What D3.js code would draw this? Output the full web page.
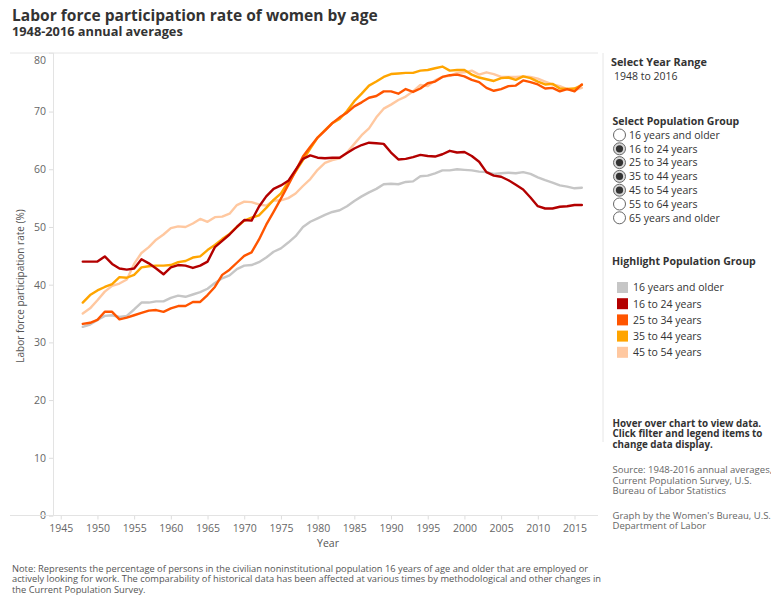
<!DOCTYPE html>
<html><head><meta charset="utf-8">
<script src="https://cdn.jsdelivr.net/npm/d3@7"></script>
<style>
body{margin:0;background:#fff;}
svg{display:block;font-family:"Open Sans",sans-serif;}
</style></head>
<body>
<svg id="chart" width="771" height="598"></svg>
<script>
const years = d3.range(1948, 2017);
const xTicks = [1945,1950,1955,1960,1965,1970,1975,1980,1985,1990,1995,2000,2005,2010,2015];
const yTicks = [0,10,20,30,40,50,60,70,80];

const all16 = [32.7,33.1,33.9,34.6,34.7,34.4,34.6,35.7,36.9,36.9,
  37.1,37.1,37.7,38.1,37.9,38.3,38.7,39.3,40.3,41.1,
  41.6,42.7,43.3,43.4,43.9,44.7,45.7,46.3,47.3,48.4,
  50.0,50.9,51.5,52.1,52.6,52.9,53.6,54.5,55.3,56.0,
  56.6,57.4,57.5,57.4,57.8,57.9,58.8,58.9,59.3,59.8,
  59.8,60.0,59.9,59.8,59.6,59.5,59.2,59.3,59.4,59.3,
  59.5,59.2,58.6,58.1,57.7,57.2,57.0,56.7,56.8];
const age16to24 = [44.0,44.0,44.0,44.9,43.6,42.8,42.6,42.8,44.4,43.7,
  42.8,41.8,43.0,43.4,43.3,42.9,43.3,44.0,46.5,47.6,
  48.7,50.0,51.2,51.1,53.5,55.3,56.6,57.2,58.0,59.9,
  61.8,62.4,62.0,61.9,62.0,62.0,62.8,63.6,64.2,64.6,
  64.5,64.4,62.9,61.7,61.8,62.1,62.5,62.3,62.2,62.6,
  63.2,62.9,63.0,62.3,61.3,59.5,58.9,58.7,58.1,57.3,
  56.5,55.1,53.6,53.2,53.2,53.5,53.6,53.8,53.8];
const age25to34 = [33.2,33.4,33.9,35.3,35.3,34.0,34.3,34.7,35.1,35.5,
  35.6,35.3,35.9,36.3,36.3,37.0,37.0,38.2,39.6,41.7,
  42.6,43.8,45.0,45.6,47.8,50.4,52.6,54.9,57.3,59.7,
  62.2,63.9,65.5,66.7,68.0,69.0,69.8,70.9,71.6,72.4,
  72.7,73.5,73.5,73.1,73.9,73.4,74.0,74.9,75.2,76.0,
  76.3,76.4,76.1,75.5,75.1,74.1,73.6,73.9,74.4,74.5,
  75.4,75.1,74.7,74.0,74.1,73.5,73.9,73.5,74.7];
const age35to44 = [36.9,38.2,39.0,39.6,40.1,41.3,41.2,41.7,43.0,43.2,
  43.3,43.3,43.4,43.9,44.1,44.7,44.9,46.0,46.9,47.9,
  48.8,50.0,51.1,51.6,52.0,53.3,54.7,55.8,57.8,59.6,
  61.6,63.6,65.5,66.8,68.0,68.7,70.1,71.8,73.1,74.5,
  75.2,76.0,76.5,76.6,76.7,76.7,77.1,77.2,77.5,77.8,
  77.1,77.2,77.2,76.4,75.9,75.6,75.3,75.8,75.9,75.5,
  76.1,75.8,75.2,74.7,74.8,74.0,73.9,74.0,74.6];
const age45to54 = [35.0,35.9,37.3,38.8,39.8,40.2,40.9,43.6,45.5,46.5,
  47.8,48.7,49.8,50.1,50.0,50.6,51.4,50.9,51.7,51.8,
  52.3,53.8,54.4,54.3,53.9,53.7,54.6,54.6,55.0,55.8,
  57.1,58.3,59.9,61.1,61.6,61.9,62.9,64.4,65.9,67.1,
  69.0,70.5,71.2,72.0,72.6,73.5,74.6,74.4,75.4,76.0,
  76.2,76.7,76.8,77.1,76.4,76.8,76.5,76.0,76.0,76.0,
  76.1,76.0,75.7,75.2,74.7,74.4,73.9,73.7,74.1];

const seriesNames = ["16 years and older","16 to 24 years","25 to 34 years","35 to 44 years","45 to 54 years"];
const seriesColors = ["#c6c6c6","#b30000","#ff5500","#ffa500","#ffc8a0"];
const seriesValues = [all16, age16to24, age25to34, age35to44, age45to54];
const drawOrder = [0,4,3,2,1];

const radioLabels = ["16 years and older","16 to 24 years","25 to 34 years","35 to 44 years","45 to 54 years","55 to 64 years","65 years and older"];
const radioSelected = [false,true,true,true,true,false,false];

const svg = d3.select("#chart");
const x = d3.scaleLinear().domain([1944, 2018.2]).range([53.4, 598]);
const y = d3.scaleLinear().domain([0, 80.2]).range([515.5, 52.7]);

function fit(sel, width){
  const n = sel.node();
  const w = n.getComputedTextLength();
  const fs = parseFloat(sel.style("font-size"));
  sel.style("font-size", (fs*width/w) + "px");
  return fs*width/w;
}

// frame lines
svg.append("line").attr("x1",10).attr("x2",598).attr("y1",53).attr("y2",53).attr("stroke","#e6e6e6");
svg.append("line").attr("x1",603).attr("x2",603).attr("y1",53).attr("y2",442).attr("stroke","#e6e6e6");

// title
const t1 = svg.append("text").attr("x",12).attr("y",20.5).attr("fill","#333").style("font-weight","700").style("font-size","15px")
  .text("Labor force participation rate of women by age");
fit(t1, 366);
const t2 = svg.append("text").attr("x",12).attr("y",35.5).attr("fill","#333").style("font-weight","700").style("font-size","11px")
  .text("1948-2016 annual averages");
fit(t2, 171);

// axes
const yAxis = svg.append("g").attr("transform","translate(53,0)")
  .call(d3.axisLeft(y).tickValues(yTicks).tickSize(4).tickPadding(3));
yAxis.select(".domain").attr("stroke","#e3e3e3");
yAxis.selectAll(".tick line").attr("stroke","#ddd");
yAxis.selectAll(".tick text").attr("fill","#666").style("font-size","10.5px").style("font-family","'Open Sans',sans-serif");
yAxis.selectAll(".tick").filter(d=>d===80).select("line").remove();
yAxis.selectAll(".tick").filter(d=>d===80).select("text").attr("dy","0.9em");

const xAxis = svg.append("g").attr("transform","translate(0,515.5)")
  .call(d3.axisBottom(x).tickValues(xTicks).tickFormat(d3.format("d")).tickSize(4).tickPadding(5));
xAxis.select(".domain").remove();
xAxis.selectAll(".tick line").attr("stroke","#ddd");
xAxis.selectAll(".tick text").attr("fill","#666").style("font-size","10.5px").style("font-family","'Open Sans',sans-serif");
svg.append("line").attr("x1",10).attr("x2",598).attr("y1",515.5).attr("y2",515.5).attr("stroke","#e3e3e3");

svg.append("text").attr("x",328).attr("y",547).attr("text-anchor","middle").attr("fill","#555").style("font-size","10.5px").text("Year");
svg.append("text").attr("transform","translate(24,286) rotate(-90)").attr("text-anchor","middle").attr("fill","#555").style("font-size","10px")
  .text("Labor force participation rate (%)");

// lines
const line = d3.line().x((d,i)=>x(years[i])).y(d=>y(d));
drawOrder.forEach(k=>{
  svg.append("path").datum(seriesValues[k]).attr("d",line).attr("fill","none")
    .attr("stroke",seriesColors[k]).attr("stroke-width",2.4).attr("stroke-linejoin","round").attr("stroke-linecap","round");
});

// right panel
const rp = svg.append("g");
const h1 = rp.append("text").attr("x",611).attr("y",66).attr("fill","#333").style("font-weight","700").style("font-size","10.5px").text("Select Year Range");
fit(h1, 96);
rp.append("text").attr("x",614).attr("y",79.5).attr("fill","#333").style("font-size","10.5px").text("1948 to 2016");
const h2 = rp.append("text").attr("x",612.5).attr("y",125).attr("fill","#333").style("font-weight","700").style("font-size","10.5px").text("Select Population Group");
fit(h2, 127);
radioLabels.forEach((lab,i)=>{
  const cy = 135 + i*13.8;
  rp.append("circle").attr("cx",619.5).attr("cy",cy).attr("r",6).attr("fill", radioSelected[i]?"#d8d8d8":"#fff").attr("stroke","#666").attr("stroke-width",1);
  if(radioSelected[i]) rp.append("circle").attr("cx",619.5).attr("cy",cy).attr("r",3.6).attr("fill","#333");
  rp.append("text").attr("x",629).attr("y",cy+3.8).attr("fill","#333").style("font-size","10.5px").text(lab);
});
const h3 = rp.append("text").attr("x",612).attr("y",264.5).attr("fill","#333").style("font-weight","700").style("font-size","10.5px").text("Highlight Population Group");
fit(h3, 144);
seriesNames.forEach((lab,i)=>{
  const cy = 287.5 + i*16.2;
  rp.append("rect").attr("x",617).attr("y",cy-5.5).attr("width",11).attr("height",11).attr("fill",seriesColors[i]);
  rp.append("text").attr("x",633).attr("y",cy+3.8).attr("fill","#333").style("font-size","10.5px").text(lab);
});

const hover = ["Hover over chart to view data.","Click filter and legend items to","change data display."];
const hv = hover.map((s,i)=>rp.append("text").attr("x",612.5).attr("y",426.5+i*10.6).attr("fill","#333").style("font-weight","700").style("font-size","9.5px").text(s));
const hfs = fit(hv[1],150); hv.forEach(s=>s.style("font-size",hfs+"px"));

const src = ["Source: 1948-2016 annual averages,","Current Population Survey, U.S.","Bureau of Labor Statistics"];
const sv = src.map((s,i)=>rp.append("text").attr("x",612.5).attr("y",472.8+i*10.7).attr("fill","#666").style("font-size","9.5px").text(s));
const sfs = fit(sv[0],160); sv.forEach(s=>s.style("font-size",sfs+"px"));

const gb = ["Graph by the Women's Bureau, U.S.","Department of Labor"];
const gv = gb.map((s,i)=>rp.append("text").attr("x",612.5).attr("y",518.5+i*10.7).attr("fill","#666").style("font-size","9.5px").text(s));
gv.forEach(s=>s.style("font-size",sfs+"px"));

// note
const note = ["Note: Represents the percentage of persons in the civilian noninstitutional population 16 years of age and older that are employed or",
  "actively looking for work. The comparability of historical data has been affected at various times by methodological and other changes in",
  "the Current Population Survey."];
const nv = note.map((s,i)=>svg.append("text").attr("x",12).attr("y",571.5+i*10.5).attr("fill","#555").style("font-size","9px").text(s));
const nfs = fit(nv[1],590); nv.forEach(s=>s.style("font-size",nfs+"px"));
</script>
</body></html>
